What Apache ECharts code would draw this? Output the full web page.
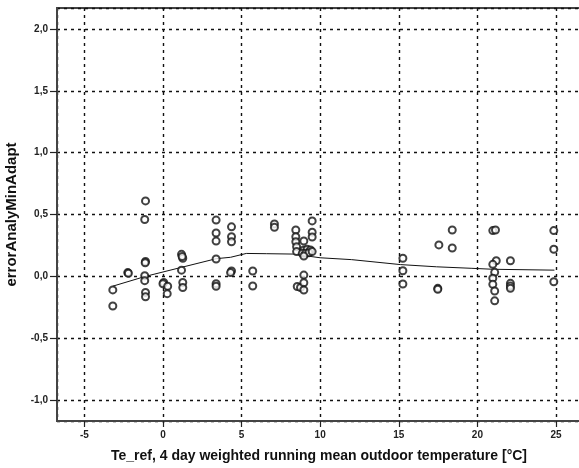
<!DOCTYPE html>
<html>
<head>
<meta charset="utf-8">
<script src="https://cdn.jsdelivr.net/npm/echarts@6/dist/echarts.min.js"></script>
<style>html,body{margin:0;padding:0;background:#fff;}#c{width:579px;height:468px;}</style>
</head>
<body>
<div id="c"></div>
<script>
const scatterX = [-3.19,-3.19,-2.24,-2.2,-1.11,-1.16,-1.11,-1.13,-1.16,-1.16,-1.11,-1.11,
  0.05,0.0,0.3,0.27,1.18,1.26,1.22,1.18,1.26,1.26,
  3.38,3.38,3.38,3.38,3.38,3.38,4.36,4.36,4.36,4.36,4.3,5.71,5.71,7.09,7.09,
  8.45,8.45,8.45,8.5,8.5,8.96,9.49,9.49,9.49,8.96,9.17,9.38,8.86,9.07,9.28,8.96,9.49,
  8.96,8.54,8.75,8.96,8.96,
  15.26,15.26,15.26,17.55,17.48,17.48,18.4,18.4,
  20.98,21.15,21.2,20.98,21.1,20.98,20.98,21.1,21.1,22.1,22.1,22.1,22.1,
  24.86,24.86,24.86];
const scatterY = [-0.11,-0.24,0.03,0.025,0.61,0.46,0.12,0.11,0.005,-0.035,-0.13,-0.165,
  -0.05,-0.06,-0.08,-0.14,0.178,0.146,0.16,0.05,-0.05,-0.09,
  0.455,0.35,0.285,0.14,-0.06,-0.08,0.40,0.32,0.28,0.043,0.03,0.043,-0.078,0.424,0.396,
  0.375,0.32,0.28,0.24,0.20,0.286,0.448,0.357,0.318,0.213,0.219,0.213,0.186,0.186,0.191,0.164,0.2,
  0.01,-0.082,-0.09,-0.052,-0.111,
  0.146,0.045,-0.062,0.254,-0.097,-0.105,0.375,0.229,
  0.37,0.375,0.126,0.097,0.032,-0.016,-0.065,-0.119,-0.198,0.126,-0.057,-0.079,-0.097,
  0.37,0.219,-0.044];
const fitX = [-3.2,-1.1,1.1,3.4,4.3,5.3,6.6,8.3,10.0,12.0,15.1,17.4,19.6,21.0,24.9];
const fitY = [-0.08,0.0,0.07,0.143,0.154,0.185,0.183,0.18,0.15,0.135,0.095,0.077,0.065,0.057,0.05];
const xTitle = 'Te_ref, 4 day weighted running mean outdoor temperature [°C]';
const yTitle = 'errorAnalyMinAdapt';

const chart = echarts.init(document.getElementById('c'), null, {renderer:'canvas'});
const splitStyle = {show:true, lineStyle:{color:'#111', width:1.4, type:[3,4]}};
chart.setOption({
  animation:false,
  backgroundColor:'#fff',
  grid:{left:57, top:8, right:-2, bottom:47, containLabel:false, outerBoundsMode:'none',
    show:true, borderColor:'#444', borderWidth:2, backgroundColor:'transparent'},
  xAxis:{type:'value', min:-6.74, max:26.59, minInterval:5, maxInterval:5,
    name:xTitle, nameLocation:'middle', nameGap:28,
    nameTextStyle:{fontFamily:'Liberation Sans', fontWeight:'bold', fontSize:14, color:'#111'},
    axisLine:{show:true, onZero:false, lineStyle:{color:'#444', width:2}},
    axisTick:{show:true, length:6, lineStyle:{color:'#222', width:1.2}},
    axisLabel:{showMinLabel:false, showMaxLabel:false, fontFamily:'Liberation Sans', fontWeight:'bold', fontSize:10, color:'#222', margin:9},
    splitLine:splitStyle},
  yAxis:{type:'value', min:-1.17, max:2.17, minInterval:0.5, maxInterval:0.5,
    name:yTitle, nameLocation:'middle', nameGap:38, nameRotate:90,
    nameTextStyle:{fontFamily:'Liberation Sans', fontWeight:'bold', fontSize:15, color:'#111'},
    axisLine:{show:true, onZero:false, lineStyle:{color:'#444', width:2}},
    axisTick:{show:true, length:7, lineStyle:{color:'#222', width:1.2}},
    axisLabel:{showMinLabel:false, showMaxLabel:false, fontFamily:'Liberation Sans', fontWeight:'bold', fontSize:10, color:'#222', margin:9,
      formatter:v => v.toFixed(1).replace('.', ',')},
    splitLine:splitStyle},
  series:[
    {type:'line', data:fitX.map((x,i)=>[x,fitY[i]]), showSymbol:false, symbol:'none',
      lineStyle:{color:'#111', width:1}, z:3},
    {type:'scatter', data:scatterX.map((x,i)=>[x,scatterY[i]]), symbol:'emptyCircle', symbolSize:7,
      itemStyle:{color:'#111', borderColor:'#111', borderWidth:1.2}, z:4}
  ]
});
</script>
</body>
</html>
